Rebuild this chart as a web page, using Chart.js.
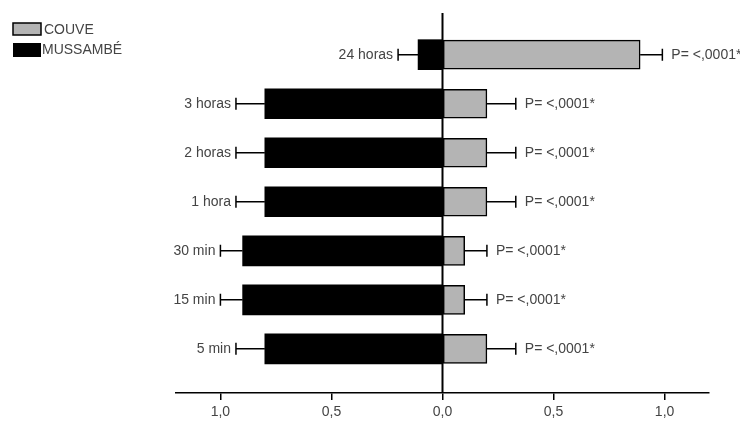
<!DOCTYPE html>
<html>
<head>
<meta charset="utf-8">
<script src="https://cdn.jsdelivr.net/npm/chart.js@4/dist/chart.umd.min.js"></script>
<style>
  html, body { margin: 0; padding: 0; background: #fff; }
  #wrap { width: 740px; height: 423px; position: relative; }
</style>
</head>
<body>
<div id="wrap"><canvas id="barChart"></canvas></div>
<script>
// Data
const categories = ['24 horas', '3 horas', '2 horas', '1 hora', '30 min', '15 min', '5 min'];
const couve = [0.89, 0.2, 0.2, 0.2, 0.1, 0.1, 0.2];
const couveSd = [0.1, 0.13, 0.13, 0.13, 0.1, 0.1, 0.13];
const mussambe = [-0.11, -0.8, -0.8, -0.8, -0.9, -0.9, -0.8];
const mussambeSd = [0.09, 0.13, 0.13, 0.13, 0.1, 0.1, 0.13];
const pLabels = ['P= <,0001*', 'P= <,0001*', 'P= <,0001*', 'P= <,0001*', 'P= <,0001*', 'P= <,0001*', 'P= <,0001*'];
const tickVals = [-1, -0.5, 0, 0.5, 1];

const textColor = '#444';
const font = '14px "Liberation Sans", Arial, sans-serif';

// Error bars, row labels, p-values, zero line and legend
const extras = {
    id: 'extras',
    afterDatasetsDraw(chart) {
        const { ctx, chartArea, scales: { x, y } } = chart;
        ctx.save();

        // zero line
        ctx.strokeStyle = '#000';
        ctx.lineWidth = 2;
        ctx.beginPath();
        ctx.moveTo(x.getPixelForValue(0), chartArea.top);
        ctx.lineTo(x.getPixelForValue(0), chartArea.bottom);
        ctx.stroke();

        ctx.font = font;
        ctx.fillStyle = textColor;
        ctx.textBaseline = 'middle';
        ctx.lineWidth = 1.5;

        categories.forEach((cat, i) => {
            const py = y.getPixelForValue(i);

            // left (mussambe) error bar
            const l0 = x.getPixelForValue(mussambe[i]);
            const l1 = x.getPixelForValue(mussambe[i] - mussambeSd[i]);
            ctx.beginPath();
            ctx.moveTo(l0, py); ctx.lineTo(l1, py);
            ctx.moveTo(l1, py - 6); ctx.lineTo(l1, py + 6);
            ctx.stroke();

            // right (couve) error bar
            const r0 = x.getPixelForValue(couve[i]);
            const r1 = x.getPixelForValue(couve[i] + couveSd[i]);
            ctx.beginPath();
            ctx.moveTo(r0, py); ctx.lineTo(r1, py);
            ctx.moveTo(r1, py - 6); ctx.lineTo(r1, py + 6);
            ctx.stroke();

            ctx.textAlign = 'right';
            ctx.fillText(cat, l1 - 5, py);
            ctx.textAlign = 'left';
            ctx.fillText(pLabels[i], r1 + 9, py);
        });

        // legend
        ctx.lineWidth = 1.5;
        ctx.fillStyle = '#b4b4b4';
        ctx.fillRect(13, 23, 28, 12);
        ctx.strokeRect(13, 23, 28, 12);
        ctx.fillStyle = '#000';
        ctx.fillRect(13, 43, 28, 14);
        ctx.fillStyle = textColor;
        ctx.textAlign = 'left';
        ctx.fillText('COUVE', 44, 30);
        ctx.fillText('MUSSAMBÉ', 42, 50);

        ctx.restore();
    }
};

new Chart(document.getElementById('barChart'), {
    type: 'bar',
    data: {
        datasets: [
            {
                label: 'COUVE',
                data: couve.map((v, i) => ({ x: v, y: i })),
                backgroundColor: '#b4b4b4',
                borderColor: '#000',
                borderWidth: 1.5,
                borderSkipped: false,
                barThickness: 29,
                grouped: false
            },
            {
                label: 'MUSSAMBÉ',
                data: mussambe.map((v, i) => ({ x: v, y: i })),
                backgroundColor: '#000',
                borderWidth: 0,
                barThickness: 30,
                grouped: false
            }
        ]
    },
    options: {
        indexAxis: 'y',
        responsive: true,
        maintainAspectRatio: false,
        animation: false,
        layout: { padding: { left: 176, right: 31, top: 13, bottom: 0 } },
        plugins: { legend: { display: false }, tooltip: { enabled: false } },
        scales: {
            y: {
                type: 'linear',
                display: false,
                reverse: true,
                offset: false,
                min: -0.85,
                max: 6.9
            },
            x: {
                type: 'linear',
                min: -1.2,
                max: 1.2,
                afterBuildTicks: scale => { scale.ticks = tickVals.map(v => ({ value: v })); },
                afterFit: scale => { scale.height = 30; },
                border: { display: true, color: '#000', width: 1.5 },
                grid: { drawOnChartArea: false, drawTicks: true, tickLength: 7, color: '#000', lineWidth: 1.5 },
                ticks: {
                    color: textColor,
                    font: { family: '"Liberation Sans", Arial, sans-serif', size: 14 },
                    padding: 4,
                    maxRotation: 0,
                    callback: v => Math.abs(v).toFixed(1).replace('.', ',')
                }
            }
        }
    },
    plugins: [extras]
});
</script>
</body>
</html>
